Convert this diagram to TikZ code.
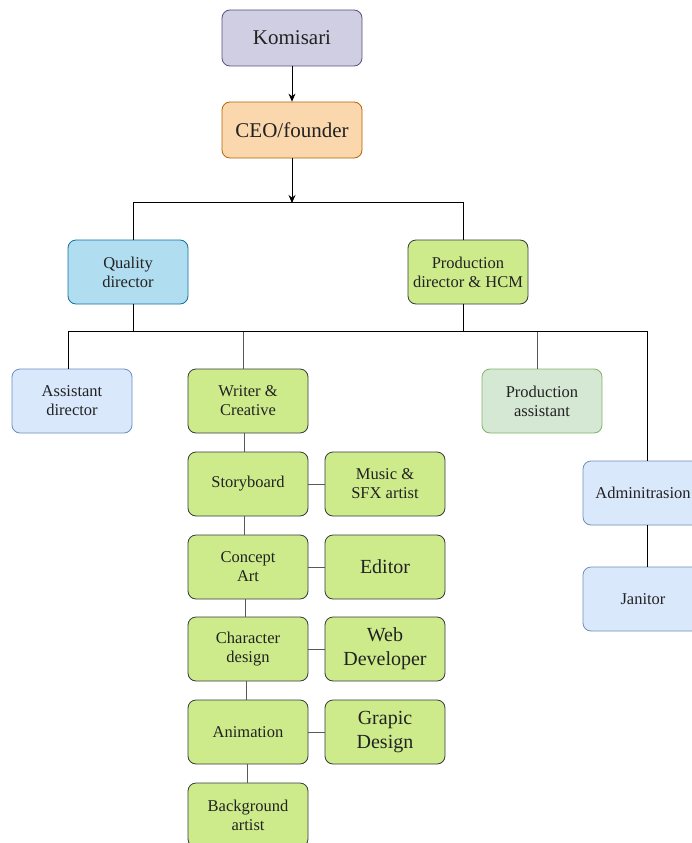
\documentclass[tikz,border=0pt]{standalone}
\usepackage{fontspec}
\setmainfont{Liberation Serif}
\usetikzlibrary{arrows.meta}
\definecolor{komf}{HTML}{D0CEE2}\definecolor{komd}{HTML}{56517E}
\definecolor{ceof}{HTML}{FAD7AC}\definecolor{ceod}{HTML}{B46504}
\definecolor{qf}{HTML}{B1DDF0}\definecolor{qd}{HTML}{10739E}
\definecolor{gf}{HTML}{CDEB8B}\definecolor{gd}{HTML}{36393D}
\definecolor{bf}{HTML}{DAE8FC}\definecolor{bd}{HTML}{6C8EBF}
\definecolor{lgf}{HTML}{D5E8D4}\definecolor{lgd}{HTML}{82B366}
\definecolor{txt}{HTML}{222222}
\tikzset{
  box/.style={draw, rounded corners=8pt, minimum width=120pt, minimum height=64pt,
    align=center, inner sep=0pt, line width=0.8pt, text=txt,
    font=\rmfamily\fontsize{16.5}{19}\selectfont},
  bigtxt/.style={font=\rmfamily\fontsize{20}{24}\selectfont},
  topbox/.style={box, minimum width=140pt, minimum height=56pt, font=\rmfamily\fontsize{21}{24}\selectfont},
  kom/.style={topbox, fill=komf, draw=komd},
  ceo/.style={topbox, fill=ceof, draw=ceod},
  qual/.style={box, fill=qf, draw=qd},
  grn/.style={box, fill=gf, draw=gd},
  blu/.style={box, fill=bf, draw=bd},
  lgr/.style={box, fill=lgf, draw=lgd},
  ln/.style={draw=black, line width=0.8pt},
  gln/.style={draw=black!65, line width=0.9pt},
  arr/.style={ln, -{Stealth[length=8pt,width=7pt]}}
}
\begin{document}
\begin{tikzpicture}[x=1pt,y=-1pt]
\useasboundingbox (0,0) rectangle (692,843);
\clip (0,0) rectangle (692,843);
\fill[white] (0,0) rectangle (692,843);
\node[kom] (kom) at (292,38) {Komisari};
\node[ceo] (ceo) at (292,130) {CEO/founder};
\node[qual] (qd) at (128,272) {Quality\\director};
\node[grn] (pd) at (468,272) {Production\\director \& HCM};
\node[blu] (ad) at (72,401) {Assistant\\director};
\node[grn] (wc) at (248,401) {Writer \&\\Creative};
\node[lgr] (pa) at (542,401) {Production\\assistant};
\node[blu] (adm) at (643,493) {Adminitrasion};
\node[blu] (jan) at (643,599) {Janitor};
\node[grn] (sb) at (248,484) {Storyboard};
\node[grn] (mu) at (385,484) {Music \&\\SFX artist};
\node[grn] (ca) at (248,567) {Concept\\Art};
\node[grn,bigtxt] (ed) at (385,567) {Editor};
\node[grn] (cd) at (248,649) {Character\\design};
\node[grn,bigtxt] (wd) at (385,649) {Web\\Developer};
\node[grn] (an) at (248,732) {Animation};
\node[grn,bigtxt] (gd) at (385,732) {Grapic\\Design};
\node[grn] (ba) at (248,815) {Background\\artist};
% top connectors
\coordinate (j1) at (292,203);
\draw[arr] (kom) -- (ceo);
\draw[arr] (ceo) -- (j1);
\draw[ln] ([xshift=5pt]qd.north) -- ++(0,-37) -| ([xshift=-5pt]pd.north);
% second level
\draw[ln] ([xshift=5pt]qd.south) -- ++(0,28);
\draw[ln] ([xshift=-5pt]pd.south) -- ++(0,28);
\draw[ln] ([xshift=-4pt]ad.north) -- ++(0,-37) -| ([xshift=4pt]adm.north);
\draw[gln] ([xshift=-5pt]wc.north) -- ++(0,-37);
\draw[gln] ([xshift=-5pt]pa.north) -- ++(0,-37);
\draw[ln] ([xshift=4pt]adm.south) -- ([xshift=4pt]jan.north);
% chain
\draw[gln] ([xshift=-4pt]wc.south) -- ([xshift=-4pt]sb.north);
\draw[gln] ([xshift=-4pt]sb.south) -- ([xshift=-4pt]ca.north);
\draw[gln] ([xshift=-3pt]ca.south) -- ([xshift=-3pt]cd.north);
\draw[gln] ([xshift=-2pt]cd.south) -- ([xshift=-2pt]an.north);
\draw[gln] ([xshift=-1pt]an.south) -- ([xshift=-1pt]ba.north);
\draw[gln] (sb.east) -- (mu.west);
\draw[gln] (ca.east) -- (ed.west);
\draw[gln] (cd.east) -- (wd.west);
\draw[gln] (an.east) -- (gd.west);
\end{tikzpicture}
\end{document}
